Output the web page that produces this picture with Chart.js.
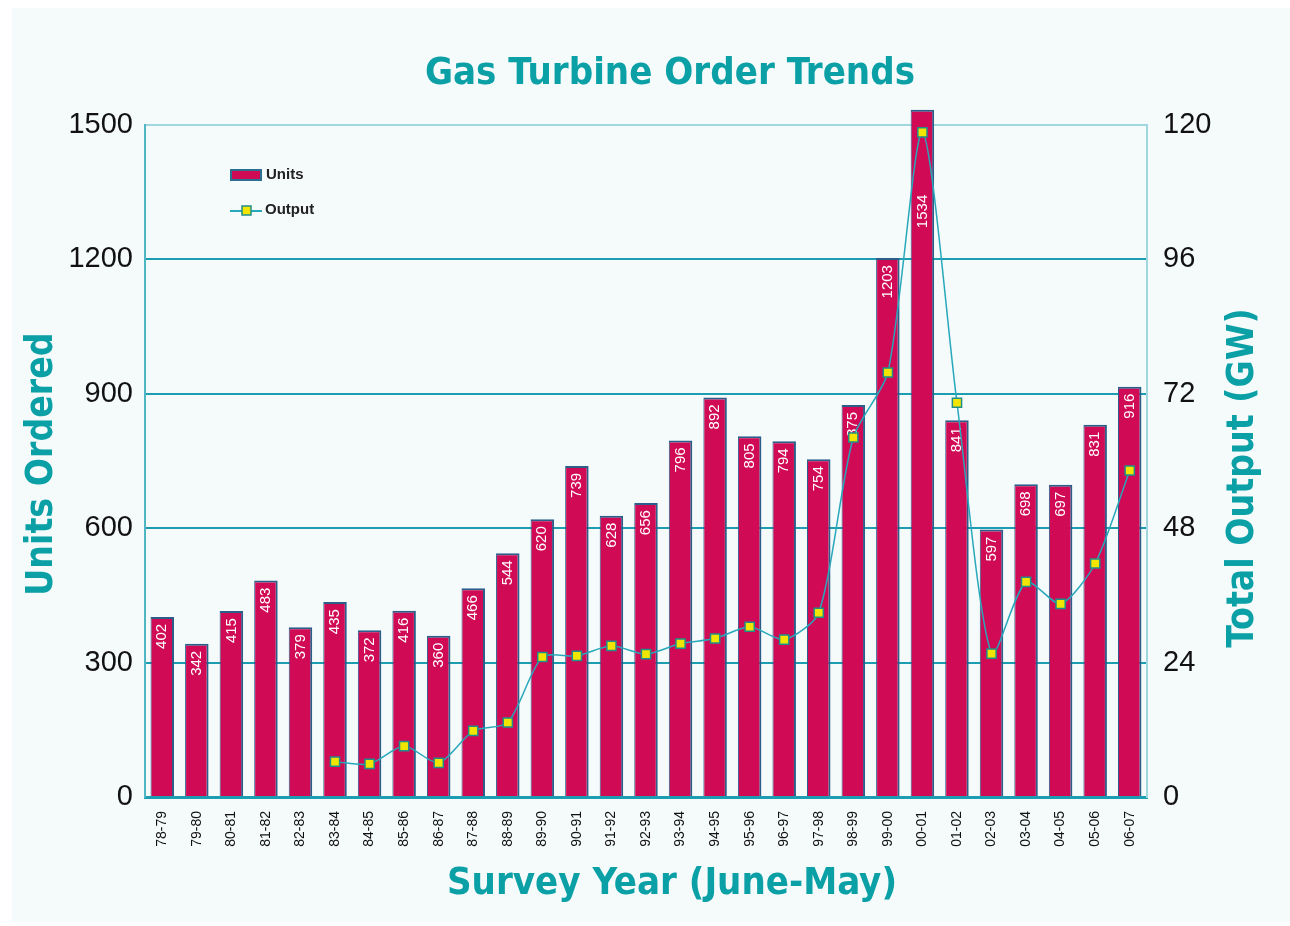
<!DOCTYPE html>
<html>
<head>
<meta charset="utf-8">
<script src="https://cdn.jsdelivr.net/npm/chart.js@4.4.1/dist/chart.umd.min.js"></script>
<style>
  html, body { margin: 0; padding: 0; background: #fff; }
  canvas { display: block; }
</style>
</head>
<body>
<canvas id="grafico" width="1290" height="926"></canvas>
<script>
// dados
const anos = ["78-79", "79-80", "80-81", "81-82", "82-83", "83-84", "84-85", "85-86", "86-87", "87-88",
  "88-89", "89-90", "90-91", "91-92", "92-93", "93-94", "94-95", "95-96", "96-97", "97-98",
  "98-99", "99-00", "00-01", "01-02", "02-03", "03-04", "04-05", "05-06", "06-07"];
const unidades = [402, 342, 415, 483, 379, 435, 372, 416, 360, 466,
  544, 620, 739, 628, 656, 796, 892, 805, 794, 754,
  875, 1203, 1534, 841, 597, 698, 697, 831, 916];
const potencia = [null, null, null, null, null, 6.3, 5.9, 9.1, 6.1, 11.8,
  13.3, 25.0, 25.2, 27.0, 25.5, 27.4, 28.3, 30.4, 28.1, 32.9,
  64.2, 75.8, 118.7, 70.4, 25.6, 38.4, 34.5, 41.7, 58.3];
const ticksUnidades = [0, 300, 600, 900, 1200, 1500];
const ticksPotencia = [0, 24, 48, 72, 96, 120];

const titulo = "Gas Turbine Order Trends";
const tituloY = "Units Ordered";
const tituloY2 = "Total Output (GW)";
const tituloX = "Survey Year (June-May)";
const nomeBarras = "Units";
const nomeLinha = "Output";

const teal = "#0aa0a6";

// fundo do painel
const fundo = {
  id: "fundo",
  beforeDraw(chart) {
    const ctx = chart.ctx;
    ctx.save();
    ctx.fillStyle = "#ffffff";
    ctx.fillRect(0, 0, chart.width, chart.height);
    ctx.fillStyle = "#f5fafb";
    ctx.fillRect(12, 8, chart.width - 12, chart.height - 12);
    ctx.restore();
  }
};

// numeros dentro das barras (desenhados logo depois das barras, antes da linha)
const rotulos = {
  id: "rotulos",
  afterDatasetDraw(chart, args) {
    if (args.index !== 1) return;
    const ctx = chart.ctx;
    const top = chart.chartArea.top;
    ctx.save();
    ctx.fillStyle = "#ffffff";
    ctx.font = '15px "Liberation Sans", sans-serif';
    ctx.textAlign = "right";
    ctx.textBaseline = "middle";
    args.meta.data.forEach((el, i) => {
      // barra que passa do topo: numero mais abaixo, como no original
      const y = el.y < top ? el.y + 85 : el.y + 7;
      ctx.save();
      ctx.translate(el.x, y);
      ctx.rotate(-Math.PI / 2);
      ctx.fillText(String(unidades[i]), 0, 0);
      ctx.restore();
    });
    ctx.restore();
  }
};

// titulos e legenda
const textos = {
  id: "textos",
  afterDraw(chart) {
    const ctx = chart.ctx;
    ctx.save();
    ctx.fillStyle = teal;
    ctx.textAlign = "center";
    ctx.textBaseline = "middle";
    ctx.font = 'bold 38px "DejaVu Sans Condensed", sans-serif';
    ctx.fillText(titulo, 670, 74);
    ctx.fillText(tituloX, 672, 884);

    ctx.font = 'bold 37px "DejaVu Sans Condensed", sans-serif';
    ctx.save();
    ctx.translate(42, 464);
    ctx.rotate(-Math.PI / 2);
    ctx.fillText(tituloY, 0, 0);
    ctx.restore();

    ctx.save();
    ctx.translate(1243, 478);
    ctx.rotate(-Math.PI / 2);
    ctx.fillText(tituloY2, 0, 0);
    ctx.restore();

    // legenda
    ctx.textAlign = "left";
    ctx.fillStyle = "#222";
    ctx.font = 'bold 15px "Liberation Sans", sans-serif';
    ctx.fillText(nomeBarras, 266, 175);
    ctx.fillText(nomeLinha, 265, 210);
    ctx.fillStyle = "#d00a55";
    ctx.strokeStyle = "#2b6f93";
    ctx.lineWidth = 2;
    ctx.fillRect(231, 170, 30, 10);
    ctx.strokeRect(231, 170, 30, 10);
    ctx.strokeStyle = "#27a8bb";
    ctx.beginPath();
    ctx.moveTo(230, 211);
    ctx.lineTo(262, 211);
    ctx.stroke();
    ctx.fillStyle = "#f2e600";
    ctx.strokeStyle = "#1f8f8a";
    ctx.lineWidth = 1.5;
    ctx.fillRect(242, 206, 9, 9);
    ctx.strokeRect(242, 206, 9, 9);
    ctx.restore();
  }
};

new Chart(document.getElementById("grafico"), {
  data: {
    labels: anos,
    datasets: [
      {
        type: "line",
        label: nomeLinha,
        data: potencia,
        yAxisID: "y1",
        order: 0,
        borderColor: "#27a8bb",
        borderWidth: 1.5,
        tension: 0.25,
        pointStyle: "rect",
        pointRadius: 6.5,
        pointBackgroundColor: "#f2e600",
        pointBorderColor: "#1f8f8a",
        pointBorderWidth: 1.5,
        spanGaps: false,
        clip: false
      },
      {
        type: "bar",
        label: nomeBarras,
        data: unidades,
        yAxisID: "y",
        order: 1,
        backgroundColor: "#d00a55",
        borderColor: "#2b5f8a",
        borderWidth: { left: 1, right: 2, top: 2, bottom: 0 },
        borderSkipped: false,
        barPercentage: 0.68,
        categoryPercentage: 1,
        clip: false
      }
    ]
  },
  options: {
    responsive: false,
    animation: false,
    layout: { padding: { top: 125, left: 0, right: 0, bottom: 0 } },
    plugins: {
      legend: { display: false },
      title: { display: false },
      tooltip: { enabled: false }
    },
    scales: {
      x: {
        grid: { display: false },
        border: { display: true, color: "#1d9db2", width: 3 },
        ticks: {
          color: "#111",
          font: { family: "Liberation Sans", size: 14 },
          minRotation: 90,
          maxRotation: 90,
          autoSkip: false,
          padding: 6
        },
        afterFit(s) { s.height = 129; }
      },
      y: {
        position: "left",
        min: 0,
        max: 1500,
        afterBuildTicks(s) { s.ticks = ticksUnidades.map(v => ({ value: v })); },
        grid: {
          color: ctx => ctx.tick && ctx.tick.value === 1500 ? "#9fd6df" : "#1d9db2",
          lineWidth: 2,
          drawTicks: false
        },
        border: { display: true, color: "#4fb6c4", width: 2 },
        ticks: {
          color: "#111",
          font: { family: "Liberation Sans", size: 29 },
          padding: 12,
          callback: v => String(v)
        },
        afterFit(s) { s.width = 145; }
      },
      y1: {
        position: "right",
        min: 0,
        max: 120,
        afterBuildTicks(s) { s.ticks = ticksPotencia.map(v => ({ value: v })); },
        grid: { display: false, drawTicks: false },
        border: { display: true, color: "#9fd6df", width: 2 },
        ticks: {
          color: "#111",
          font: { family: "Liberation Sans", size: 29 },
          padding: 16,
          callback: v => String(v)
        },
        afterFit(s) { s.width = 143; }
      }
    }
  },
  plugins: [fundo, rotulos, textos]
});
</script>
</body>
</html>
